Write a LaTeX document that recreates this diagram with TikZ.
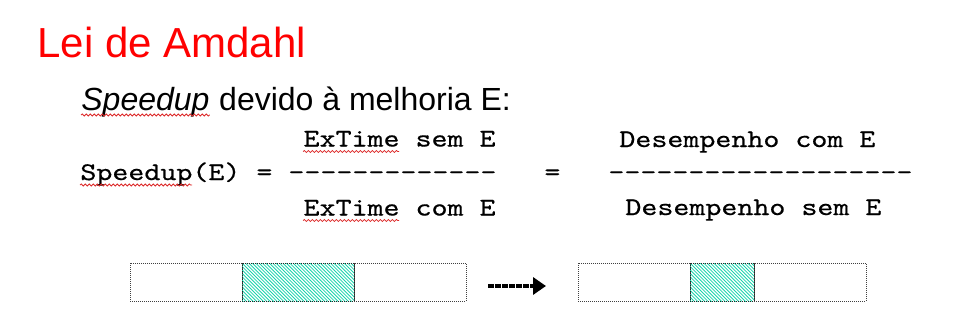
\documentclass[tikz,border=0pt]{standalone}
\usepackage{fontspec}
\setmainfont{Liberation Sans}
\newfontfamily\codefont{lmmono10-regular.otf}[FakeStretch=1.2, FakeBold=0.6]
\usetikzlibrary{positioning, arrows.meta, decorations.pathmorphing}
\definecolor{titlered}{RGB}{255,0,0}
\definecolor{hatch}{RGB}{25,212,172}
\definecolor{spellred}{RGB}{220,40,40}

\begin{document}
\begin{tikzpicture}[x=0.5pt, y=-0.5pt,
	txt/.style={inner sep=0pt, anchor=base west},
	mono/.style={txt, font=\fontsize{12.7}{16}\codefont},
	seg/.style={draw=black!75, dash pattern=on 0.5pt off 0.5pt, line width=0.5pt,
		minimum width=56pt, minimum height=19pt, inner sep=0pt, outer sep=0pt},
	fast/.style={seg, draw=black!85, path picture={
		\foreach \i in {-12,...,34}
			\draw[hatch, line width=0.42pt, solid] ([xshift=\i*1.7pt]path picture bounding box.north west) -- ++(25pt,-25pt);
	}},
	squiggle/.style={draw=spellred, line width=0.4pt, decorate, decoration={snake, amplitude=0.5pt, segment length=2pt}},
	fatarrow/.style={line width=2.1pt, dash pattern=on 3pt off 0.5pt, -{Triangle[length=6.5pt,width=8.5pt]}}]
		\useasboundingbox (0,0) rectangle (959,332);
		% heading
		\node at (37,57) [txt, text=titlered, font=\fontsize{21}{25}\selectfont] (title) {Lei de Amdahl};
		\node at (81,110) [txt, font=\fontsize{16}{19}\selectfont\itshape] (spd) {Speedup};
		\node at (spd.base east) [txt, font=\fontsize{16}{19}\selectfont] (intro) {\ devido à melhoria E:};
		% the two fractions
		\node at (80,180) [mono] (lhs) {Speedup(E) =};
		\node at (288,180) [mono] (rule1) {-------------};
		\node at (496,146.5) [mono, anchor=base east] (num1) {ExTime sem E};
		\node at (496,215.5) [mono, anchor=base east] (den1) {ExTime com E};
		\node at (544,180) [mono] (eq2) {=};
		\node at (608,180) [mono] (rule2) {-------------------};
		\node at (619,147) [mono] (num2) {Desempenho com E};
		\node at (625,215) [mono] (den2) {Desempenho sem E};
		\draw[squiggle] ([yshift=-2.5pt]spd.base west) -- ([yshift=-2.5pt]spd.base east);
		\draw[squiggle] ([yshift=-2.5pt]lhs.base west) -- ++(112,0);
		\draw[squiggle] ([yshift=-2.5pt]num1.base west) -- ++(96,0);
		\draw[squiggle] ([yshift=-2.5pt]den1.base west) -- ++(96,0);
		% time bars, before and after
		\node at (130,263) [seg, anchor=north west] (old1) {};
		\node [fast, right=0pt of old1] (old2) {};
		\node [seg, right=0pt of old2] (old3) {};
		\node at (578,263) [seg, anchor=north west] (new1) {};
		\node [fast, minimum width=32pt, right=0pt of new1] (new2) {};
		\node [seg, right=0pt of new2] (new3) {};
		\coordinate (from) at (488,286);
		\coordinate (to) at (546,286);
		\draw[fatarrow] (from) -- (to);
	\end{tikzpicture}
\end{document}
